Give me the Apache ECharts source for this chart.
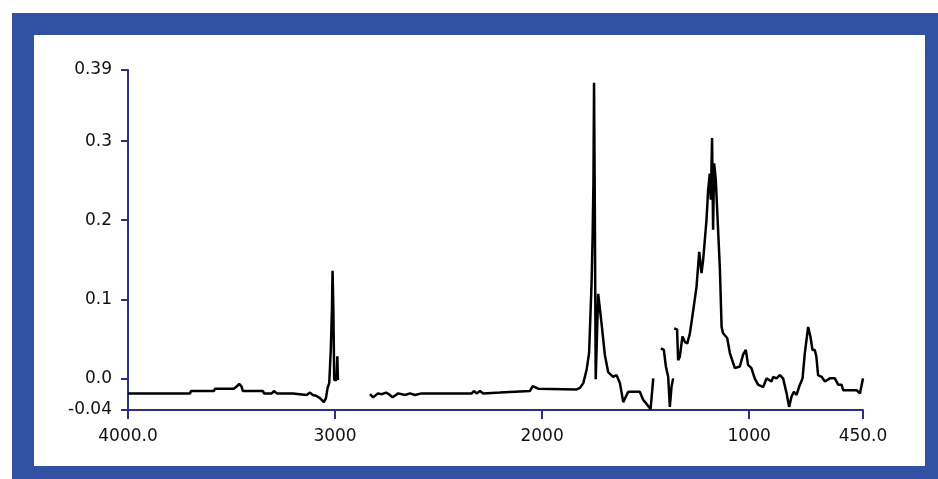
<!DOCTYPE html>
<html>
<head>
<meta charset="utf-8">
<script src="https://cdn.jsdelivr.net/npm/echarts@6/dist/echarts.min.js"></script>
<style>
html,body{margin:0;padding:0;background:#fff;}
#frame{position:absolute;left:12px;top:13px;width:926px;height:466px;background:#3251a2;}
#inner{position:absolute;left:34px;top:35px;width:891px;height:431px;background:#fff;}
#chart{position:absolute;left:0;top:0;width:938px;height:479px;}
</style>
</head>
<body>
<div id="frame"></div>
<div id="inner"></div>
<div id="chart"></div>
<script>
// Wavenumbers (cm-1) and absorbance; null marks a break in the trace
const wavenumbers = [
  4000, 3700, 3696, 3585, 3580, 3488, 3474, 3463, 3452, 3445, 3348, 3343, 3306, 3295, 3281, 3203, 3198, 3137, 3121, 3107,
  3092, 3073, 3054, 3044, 3036, 3028, 3020, 3015, 3012, 3008, 3004, 2993, 2989, 2986,
  2900,
  2831, 2816, 2793, 2774, 2754, 2740, 2722, 2695, 2662, 2638, 2614, 2582, 2340, 2329, 2316, 2300, 2284, 2204, 2199,
  2059, 2046, 2035, 2019, 1833, 1817, 1801, 1785, 1773, 1761, 1756, 1752, 1749, 1746, 1741, 1729, 1713, 1697, 1681,
  1657, 1640, 1624, 1608, 1584, 1528, 1512, 1496, 1476, 1463,
  1445,
  1426, 1412, 1402, 1391, 1383, 1375, 1367,
  1364,
  1362, 1348, 1343, 1335, 1322, 1310, 1299, 1286, 1270, 1254, 1241, 1230, 1222, 1206, 1198, 1190, 1185, 1179, 1174,
  1169, 1161, 1141, 1133, 1126, 1106, 1093, 1069, 1045, 1029, 1016, 1005, 989, 973, 957, 932, 916, 892, 884, 868,
  852, 836, 819, 807, 795, 784, 771, 759, 742, 731, 715, 704, 694, 683, 675, 667, 650, 634, 610, 586, 570, 553, 546,
  529, 481, 473, 465, 450
];
const absorbance = [
  -0.019, -0.019, -0.016, -0.016, -0.013, -0.013, -0.010, -0.007, -0.010, -0.016, -0.016, -0.019, -0.019, -0.016, -0.019, -0.019, -0.021, -0.021, -0.018, -0.021,
  -0.022, -0.025, -0.030, -0.025, -0.012, -0.006, 0.040, 0.086, 0.136, 0.086, -0.002, -0.002, 0.028, -0.002,
  null,
  -0.020, -0.024, -0.019, -0.020, -0.018, -0.020, -0.024, -0.019, -0.021, -0.019, -0.021, -0.019, -0.019, -0.016, -0.019, -0.016, -0.019, -0.018, -0.016,
  -0.016, -0.010, -0.011, -0.013, -0.014, -0.012, -0.006, 0.011, 0.032, 0.120, 0.179, 0.247, 0.374, 0.251, -0.001, 0.107, 0.070, 0.030, 0.008,
  0.002, 0.004, -0.006, -0.030, -0.017, -0.017, -0.027, -0.032, -0.039, 0.000,
  null,
  0.038, 0.036, 0.015, 0.002, -0.036, -0.011, 0.000,
  null,
  0.063, 0.062, 0.023, 0.027, 0.053, 0.046, 0.044, 0.057, 0.086, 0.116, 0.160, 0.133, 0.150, 0.200, 0.238, 0.259, 0.226, 0.304, 0.188,
  0.272, 0.251, 0.137, 0.065, 0.057, 0.051, 0.032, 0.013, 0.015, 0.030, 0.036, 0.017, 0.013, 0.000, -0.008, -0.011, 0.000, -0.004, 0.002, 0.000,
  0.004, 0.000, -0.019, -0.036, -0.023, -0.017, -0.021, -0.011, 0.000, 0.032, 0.065, 0.053, 0.036, 0.036, 0.027, 0.004, 0.002, -0.004, 0.000, 0.000, -0.008, -0.008, -0.015,
  -0.015, -0.015, -0.015, -0.019, 0.000
];
const xTickValues = [4000, 3000, 2000, 1000, 450];
const xTickLabels = ['4000.0', '3000', '2000', '1000', '450.0'];
const yTickValues = [-0.04, 0, 0.1, 0.2, 0.3, 0.39];
const yTickLabels = ['-0.04', '0.0', '0.1', '0.2', '0.3', '0.39'];

function labelFor(values, labels) {
  return function (v) {
    for (let i = 0; i < values.length; i++) {
      if (Math.abs(values[i] - v) < 1e-9) return labels[i];
    }
    return '';
  };
}

const seriesData = wavenumbers.map((w, i) => [w, absorbance[i] === null ? '-' : absorbance[i]]);

const axisColor = '#2b2f86';
const textStyle = { color: '#111111', fontFamily: 'DejaVu Sans', fontSize: 17 };

const chart = echarts.init(document.getElementById('chart'), null, { renderer: 'canvas' });
chart.setOption({
  animation: false,
  backgroundColor: 'transparent',
  grid: { left: 128, right: 75, top: 70, bottom: 69, containLabel: false },
  xAxis: {
    type: 'value',
    min: 450,
    max: 4000,
    inverse: true,
    axisLine: { show: true, onZero: false, lineStyle: { color: axisColor, width: 2 } },
    axisTick: { show: true, inside: false, length: 9, customValues: xTickValues, lineStyle: { color: axisColor, width: 2 } },
    axisLabel: Object.assign({ customValues: xTickValues, margin: 18, formatter: labelFor(xTickValues, xTickLabels), hideOverlap: false, showMinLabel: true, showMaxLabel: true }, textStyle),
    splitLine: { show: false }
  },
  yAxis: {
    type: 'value',
    min: -0.04,
    max: 0.39,
    axisLine: { show: true, onZero: false, lineStyle: { color: axisColor, width: 2 } },
    axisTick: { show: true, inside: false, length: 7, customValues: yTickValues, lineStyle: { color: axisColor, width: 2 } },
    axisLabel: Object.assign({ customValues: yTickValues, margin: 16, formatter: labelFor(yTickValues, yTickLabels), hideOverlap: false, showMinLabel: true, showMaxLabel: true }, textStyle),
    splitLine: { show: false }
  },
  series: [{
    type: 'line',
    data: seriesData,
    showSymbol: false,
    symbol: 'none',
    connectNulls: false,
    lineStyle: { color: '#000', width: 2.5 },
    z: 3
  }]
});
</script>
</body>
</html>
